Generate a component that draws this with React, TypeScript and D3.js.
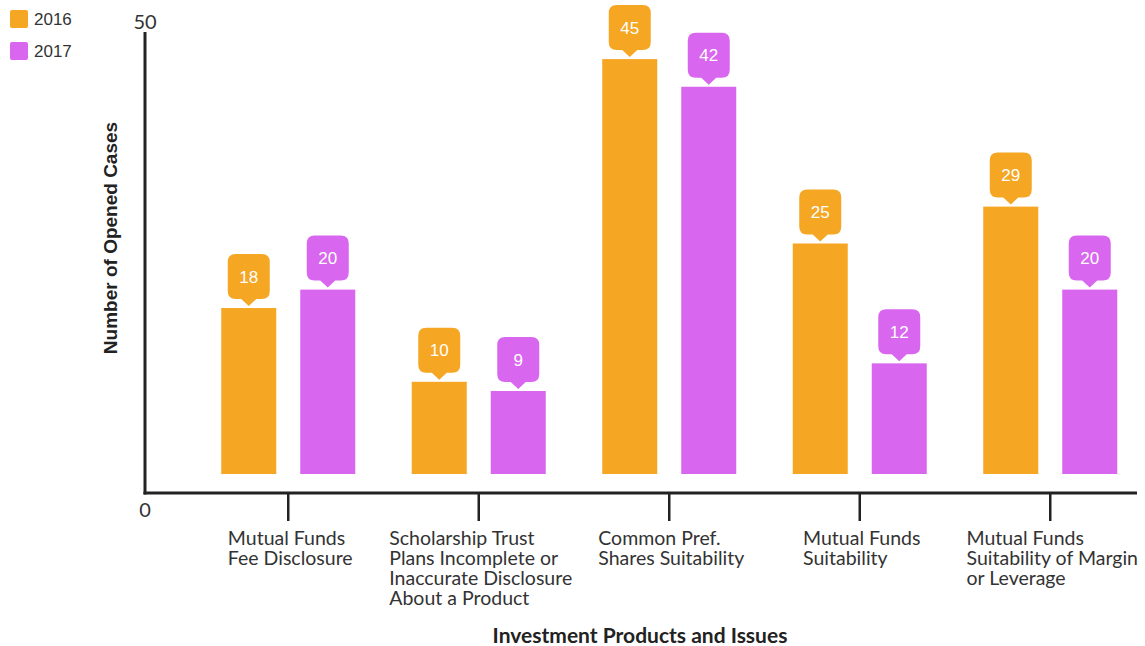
import React, { useEffect, useRef } from "react";
import * as d3 from "d3";

const categories = [
  "Mutual Funds\nFee Disclosure",
  "Scholarship Trust\nPlans Incomplete or\nInaccurate Disclosure\nAbout a Product",
  "Common Pref.\nShares Suitability",
  "Mutual Funds\nSuitability",
  "Mutual Funds\nSuitability of Margin\nor Leverage",
];
const seriesNames = ["2016", "2017"];
const values2016 = [18, 10, 45, 25, 29];
const values2017 = [20, 9, 42, 12, 20];
const yTicks = [0, 50];
const colors = ["#F5A623", "#D966EE"];
const xTitle = "Investment Products and Issues";
const yTitle = "Number of Opened Cases";

export default function App() {
  const ref = useRef<SVGSVGElement>(null);
  useEffect(() => {
    const svg = d3.select(ref.current);
    svg.selectAll("*").remove();
    const x = d3.scaleBand<string>().domain(categories).range([193, 1145.5]).padding(0);
    const inner = d3.scaleBand<string>().domain(seriesNames).range([-67, 67]).paddingInner(24 / 79).paddingOuter(0);
    const y = d3.scaleLinear().domain([0, 50]).range([493, 32]);
    const offset = 19;
    const series = [values2016, values2017];

    // legend
    const leg = svg.append("g");
    seriesNames.forEach((s, i) => {
      leg.append("rect").attr("x", 10).attr("y", 10 + i * 32).attr("width", 18).attr("height", 18).attr("rx", 2).attr("fill", colors[i]);
      leg.append("text").attr("x", 34).attr("y", 25 + i * 32).attr("font-family", "Liberation Sans, Arial, sans-serif").attr("font-size", 17).attr("fill", "#333").text(s);
    });

    // bars
    categories.forEach((c, ci) => {
      const cx = x(c)! + x.bandwidth() / 2;
      seriesNames.forEach((s, si) => {
        const v = series[si][ci];
        const bx = cx + inner(s)!;
        const bw = inner.bandwidth();
        const top = y(v) - offset;
        const base = y(0) - offset;
        svg.append("rect").attr("x", bx).attr("y", top).attr("width", bw).attr("height", base - top).attr("fill", colors[si]);
        // callout
        const mx = bx + bw / 2;
        const tip = top - 2;
        const bb = top - 9;
        const bt = top - 54;
        const hw = 21, r = 8, th = 7.5;
        const p = d3.path();
        p.moveTo(mx - hw + r, bt);
        p.lineTo(mx + hw - r, bt);
        p.quadraticCurveTo(mx + hw, bt, mx + hw, bt + r);
        p.lineTo(mx + hw, bb - r);
        p.quadraticCurveTo(mx + hw, bb, mx + hw - r, bb);
        p.lineTo(mx + th, bb);
        p.lineTo(mx, tip);
        p.lineTo(mx - th, bb);
        p.lineTo(mx - hw + r, bb);
        p.quadraticCurveTo(mx - hw, bb, mx - hw, bb - r);
        p.lineTo(mx - hw, bt + r);
        p.quadraticCurveTo(mx - hw, bt, mx - hw + r, bt);
        p.closePath();
        svg.append("path").attr("d", p.toString()).attr("fill", colors[si]);
        svg.append("text").attr("x", mx).attr("y", (bt + bb) / 2 + 6).attr("text-anchor", "middle")
          .attr("font-family", "Liberation Sans, Arial, sans-serif").attr("font-size", 17).attr("fill", "#fff").text(String(v));
      });
    });

    // axes
    const axisColor = "#222";
    svg.append("line").attr("x1", 145).attr("x2", 145).attr("y1", y(50)).attr("y2", y(0) + 1.5).attr("stroke", axisColor).attr("stroke-width", 3);
    svg.append("line").attr("x1", 143.5).attr("x2", 1137).attr("y1", y(0)).attr("y2", y(0)).attr("stroke", axisColor).attr("stroke-width", 3);
    yTicks.forEach((t) => {
      svg.append("text").attr("x", 145).attr("y", t === 0 ? y(t) + 24 : y(t) - 3).attr("text-anchor", "middle")
        .attr("font-family", "Lato, sans-serif").attr("font-size", 20).attr("fill", "#333").text(String(t));
    });
    categories.forEach((c) => {
      const cx = x(c)! + x.bandwidth() / 2;
      svg.append("line").attr("x1", cx).attr("x2", cx).attr("y1", y(0)).attr("y2", y(0) + 28).attr("stroke", axisColor).attr("stroke-width", 2.5);
      const g = svg.append("g");
      const t = g.append("text").attr("font-family", "Lato, sans-serif").attr("font-size", 19.5).attr("fill", "#333");
      c.split("\n").forEach((line, li) => {
        t.append("tspan").attr("x", 0).attr("y", 545 + li * 20).text(line);
      });
      const w = (t.node() as SVGTextElement).getBBox().width;
      g.attr("transform", `translate(${cx - w / 2 + 2},0)`);
    });

    svg.append("text").attr("x", 640).attr("y", 643).attr("text-anchor", "middle")
      .attr("font-family", "Lato, sans-serif").attr("font-weight", "bold").attr("font-size", 21).attr("fill", "#222").text(xTitle);
    svg.append("text").attr("transform", `translate(117,238) rotate(-90)`).attr("text-anchor", "middle")
      .attr("font-family", "Liberation Sans, Arial, sans-serif").attr("font-weight", "bold").attr("font-size", 19).attr("fill", "#222").text(yTitle);
  }, []);
  return (
    <svg ref={ref} width={1145} height={646} style={{ position: "absolute", left: 0, top: 0, background: "#fff" }} />
  );
}
